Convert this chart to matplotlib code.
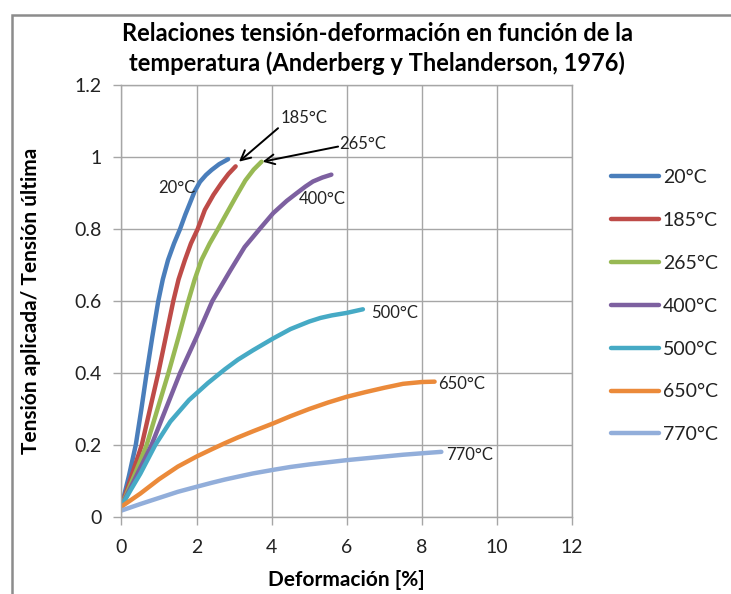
import matplotlib

matplotlib.use("Agg")
import matplotlib.pyplot as plt
from matplotlib.patches import Rectangle

plt.rcParams["font.family"] = ["Lato", "DejaVu Sans"]

# strain [%] / stress ratio read per temperature
temps = ["20°C", "185°C", "265°C", "400°C", "500°C", "650°C", "770°C"]

x_20 = [0, 0.20, 0.38, 0.53, 0.67, 0.82, 0.98, 1.10, 1.24, 1.40, 1.56, 1.70, 1.82,
        1.95, 2.09, 2.25, 2.40, 2.60, 2.84]
y_20 = [0.03, 0.115, 0.20, 0.30, 0.40, 0.50, 0.60, 0.66, 0.714, 0.76, 0.80, 0.84,
        0.871, 0.905, 0.931, 0.950, 0.964, 0.980, 0.994]

x_185 = [0, 0.27, 0.54, 0.76, 0.98, 1.18, 1.38, 1.52, 1.69, 1.85, 2.03, 2.22, 2.45,
         2.66, 2.85, 3.04]
y_185 = [0.03, 0.115, 0.20, 0.30, 0.40, 0.50, 0.60, 0.66, 0.714, 0.76, 0.80, 0.853,
         0.895, 0.927, 0.953, 0.974]

x_265 = [0, 0.34, 0.67, 0.96, 1.25, 1.52, 1.78, 1.95, 2.13, 2.35, 2.57, 2.75, 3.05,
         3.30, 3.52, 3.73]
y_265 = [0.03, 0.115, 0.20, 0.30, 0.40, 0.50, 0.60, 0.66, 0.714, 0.76, 0.80, 0.834,
         0.89, 0.935, 0.965, 0.987]

x_400 = [0, 0.40, 0.80, 1.18, 1.56, 2.00, 2.42, 2.90, 3.28, 3.68, 4.04, 4.40, 4.66,
         4.90, 5.10, 5.35, 5.59]
y_400 = [0.03, 0.115, 0.20, 0.30, 0.40, 0.50, 0.60, 0.685, 0.75, 0.80, 0.844, 0.878,
         0.899, 0.918, 0.932, 0.943, 0.951]

x_500 = [0, 0.25, 0.50, 0.90, 1.30, 1.80, 2.30, 2.75, 3.10, 3.50, 4.04, 4.50, 5.00,
         5.30, 5.60, 6.00, 6.43]
y_500 = [0.03, 0.076, 0.12, 0.20, 0.265, 0.325, 0.372, 0.410, 0.437, 0.463, 0.496,
         0.522, 0.543, 0.553, 0.560, 0.567, 0.577]

x_650 = [0, 0.50, 1.00, 1.50, 2.00, 2.40, 2.75, 3.10, 3.50, 4.04, 4.50, 5.00, 5.50,
         6.00, 6.50, 7.00, 7.50, 8.00, 8.34]
y_650 = [0.029, 0.065, 0.105, 0.140, 0.168, 0.188, 0.205, 0.221, 0.238, 0.260,
         0.280, 0.300, 0.318, 0.334, 0.347, 0.359, 0.370, 0.375, 0.376]

x_770 = [0, 0.50, 1.00, 1.50, 2.00, 2.40, 2.75, 3.10, 3.50, 4.04, 4.50, 5.00, 5.50,
         6.00, 6.50, 7.00, 7.50, 8.00, 8.52]
y_770 = [0.018, 0.036, 0.053, 0.070, 0.084, 0.095, 0.104, 0.112, 0.121, 0.131,
         0.139, 0.146, 0.152, 0.158, 0.163, 0.168, 0.173, 0.177, 0.181]

xs = [x_20, x_185, x_265, x_400, x_500, x_650, x_770]
ys = [y_20, y_185, y_265, y_400, y_500, y_650, y_770]
colors = ["#4A7EBB", "#BE4B48", "#98B954", "#7D60A0", "#46AAC5", "#EB8A3A", "#92AEDA"]

fig = plt.figure(figsize=(7.31, 5.94), dpi=100)
ax = fig.add_axes([0.1662, 0.1296, 0.6163, 0.7273])

# outer chart frame
fig.patches.append(Rectangle((12 / 731, -0.1), 1.2, (594 - 15) / 594 + 0.1,
                             transform=fig.transFigure, fill=False,
                             edgecolor="#8C8C8C", linewidth=1.8))

for x, y, c, t in zip(xs, ys, colors, temps):
    ax.plot(x, y, color=c, linewidth=3.2, solid_capstyle="round",
            solid_joinstyle="round", label=t)

ax.set_xlim(0, 12)
ax.set_ylim(0, 1.2)
ax.set_xticks(range(0, 13, 2))
ax.set_yticks([0, 0.2, 0.4, 0.6, 0.8, 1.0, 1.2])
ax.set_yticklabels(["0", "0.2", "0.4", "0.6", "0.8", "1", "1.2"])
ax.grid(True, color="#A6A6A6", linewidth=1.0)
ax.set_axisbelow(True)
for s in ax.spines.values():
    s.set_color("#A6A6A6")
    s.set_linewidth(1.0)
ax.tick_params(axis="both", colors="#A6A6A6", labelcolor="#222222",
               labelsize=14, length=6, width=1.0)
ax.tick_params(axis="y", pad=8)
ax.tick_params(axis="x", pad=10)

ax.set_xlabel("Deformación [%]", fontsize=15, fontweight="bold", labelpad=10)
ax.set_ylabel("Tensión aplicada/ Tensión última", fontsize=15,
              fontweight="bold", labelpad=24)
fig.text(0.516, 0.918, "Relaciones tensión-deformación en función de la\n"
         "temperatura (Anderberg y Thelanderson, 1976)",
         ha="center", va="center", fontsize=17, fontweight="bold",
         linespacing=1.35)

# curve labels
lab = dict(fontsize=12, color="#222222", va="center")
ax.text(1.98, 0.914, "20°C", ha="right", **lab)
ax.text(4.24, 1.108, "185°C", ha="left", **lab)
ax.text(5.80, 1.036, "265°C", ha="left", **lab)
ax.text(4.72, 0.883, "400°C", ha="left", **lab)
ax.text(6.64, 0.567, "500°C", ha="left", **lab)
ax.text(8.44, 0.369, "650°C", ha="left", **lab)
ax.text(8.66, 0.172, "770°C", ha="left", **lab)

arrow = dict(arrowstyle="->,head_length=0.7,head_width=0.35", color="black",
             linewidth=1.4, shrinkA=0, shrinkB=0)
ax.annotate("", xy=(3.13, 0.987), xytext=(4.17, 1.080), arrowprops=arrow)
ax.annotate("", xy=(3.76, 0.987), xytext=(5.77, 1.029), arrowprops=arrow)

leg = ax.legend(loc="center left", bbox_to_anchor=(1.07, 0.488), frameon=False,
                fontsize=14, handlelength=2.45, handletextpad=0.2,
                labelspacing=1.33, borderaxespad=0)
for t in leg.get_texts():
    t.set_color("#222222")

fig.savefig("out.png", dpi=100)
